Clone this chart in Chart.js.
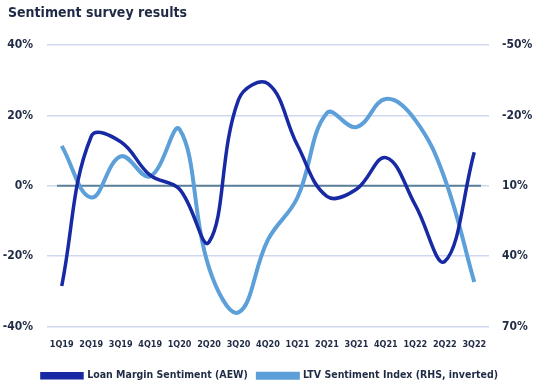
<!DOCTYPE html>
<html><head><meta charset="utf-8">
<script src="https://cdn.jsdelivr.net/npm/chart.js@4"></script>
<style>html,body{margin:0;padding:0;background:#fff}#wrap{width:540px;height:391px;position:relative}
#title{position:absolute;left:8px;top:4px;font:bold 14px 'DejaVu Sans Condensed','DejaVu Sans',sans-serif;color:#1f2a44;line-height:17px}</style>
</head><body><div id="wrap"><div id="title">Sentiment survey results</div><canvas id="c" width="540" height="391"></canvas></div>
<script>
const categories = ['1Q19','2Q19','3Q19','4Q19','1Q20','2Q20','3Q20','4Q20','1Q21','2Q21','3Q21','4Q21','1Q22','2Q22','3Q22'];
const loanMargin = [-28.5, 14, 12.5, 3, -1, -16, 24.5, 29, 11.5, -3, -1, 8, -5.5, -21.5, 9.5];
const ltvIndex = [-7, 15, -2.5, 6, -14, 45, 64, 33, 15, -21, -15, -27, -18, 7, 51];
const leftTicks = [-40, -20, 0, 20, 40];
const rightTicks = [-50, -20, 10, 40, 70];

const navy = '#1f2a44';
const font = "'DejaVu Sans Condensed','DejaVu Sans',sans-serif";

const zeroLine = {
  id: 'zeroLine',
  beforeDatasetsDraw(chart) {
    const y = chart.scales.y.getPixelForValue(0);
    const a = chart.chartArea;
    const ctx = chart.ctx;
    ctx.save();
    ctx.strokeStyle = '#5b7f99';
    ctx.lineWidth = 2;
    ctx.beginPath();
    ctx.moveTo(a.left + 10, y);
    ctx.lineTo(a.right - 8, y);
    ctx.stroke();
    ctx.restore();
  }
};

new Chart(document.getElementById('c'), {
  type: 'line',
  data: {
    labels: categories,
    datasets: [
      { label: 'Loan Margin Sentiment (AEW)', data: loanMargin, yAxisID: 'y',
        borderColor: '#1729a3', backgroundColor: '#1729a3', borderWidth: 3.5, pointRadius: 0, tension: 0.4, order: 0 },
      { label: 'LTV Sentiment Index (RHS, inverted)', data: ltvIndex, yAxisID: 'y1',
        borderColor: '#5d9fd8', backgroundColor: '#5d9fd8', borderWidth: 4, pointRadius: 0, tension: 0.4, order: 1 }
    ]
  },
  options: {
    responsive: false, animation: false,
    layout: { padding: { left: 0, right: 0, top: 45, bottom: 0 } },
    plugins: {
      title: { display: false },
      legend: { position: 'bottom', labels: { boxWidth: 40, boxHeight: 4, color: navy, padding: 10,
        font: { family: font, size: 10.5, weight: 'bold' } } },
      tooltip: { enabled: false }
    },
    scales: {
      x: { offset: true, grid: { display: false }, border: { display: false },
        afterFit: s => { s.height = 34; },
        ticks: { color: navy, maxRotation: 0, autoSkip: false, padding: 5, font: { family: font, size: 9, weight: 'bold' } } },
      y: { position: 'left', min: -40, max: 40,
        afterFit: s => { s.width = 47; },
        afterBuildTicks: s => { s.ticks = leftTicks.map(v => ({ value: v })); },
        grid: { color: '#d0d8ef', lineWidth: 1.5, drawTicks: false }, border: { display: false },
        ticks: { color: navy, padding: 14, callback: v => v + '%', font: { family: font, size: 12, weight: 'bold' } } },
      y1: { position: 'right', reverse: true, min: -50, max: 70,
        afterFit: s => { s.width = 51; },
        afterBuildTicks: s => { s.ticks = rightTicks.map(v => ({ value: v })); },
        grid: { display: false, drawTicks: false }, border: { display: false },
        ticks: { color: navy, padding: 13, callback: v => v + '%', font: { family: font, size: 12, weight: 'bold' } } }
    }
  },
  plugins: [zeroLine]
});
</script></body></html>
